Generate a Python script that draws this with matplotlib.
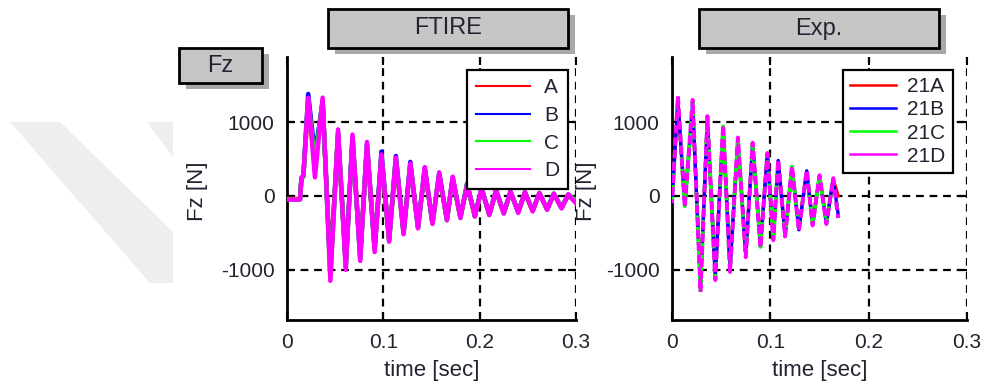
import matplotlib
matplotlib.use("Agg")
import matplotlib.pyplot as plt
from matplotlib.patches import Rectangle, Polygon
from matplotlib.lines import Line2D

plt.rcParams['font.family'] = ['Liberation Sans', 'DejaVu Sans']
plt.rcParams['axes.unicode_minus'] = False

# --- data (extrema of the oscillations) ---
ftire_t = [0.000, 0.0135, 0.015, 0.017, 0.022, 0.029, 0.037, 0.045, 0.053, 0.061,
           0.068, 0.076, 0.083, 0.091, 0.098, 0.106, 0.113, 0.121, 0.128, 0.136,
           0.143, 0.151, 0.158, 0.166, 0.172, 0.180, 0.187, 0.195, 0.202, 0.210,
           0.217, 0.225, 0.232, 0.240, 0.247, 0.255, 0.262, 0.270, 0.277, 0.285,
           0.292, 0.300]
ftire_A = [-40, -40, 230, 260, 1250, 500, 1250, -950, 820, -900, 760, -800, 660, -700,
           520, -580, 470, -480, 400, -420, 350, -360, 280, -320, 220, -290, 150, -270,
           90, -250, 60, -230, 50, -210, 40, -200, 30, -180, 20, -160, 10, -90]
ftire_B = [-45, -45, 240, 270, 1380, 550, 1280, -1050, 850, -950, 800, -850, 700, -720,
           600, -600, 540, -500, 460, -430, 380, -370, 300, -320, 250, -290, 170, -270,
           110, -250, 80, -230, 60, -220, 50, -200, 40, -180, 30, -160, 20, -80]
ftire_C = [-45, -45, 235, 265, 1300, 450, 1290, -1080, 860, -960, 780, -840, 690, -730,
           540, -610, 500, -510, 420, -430, 370, -370, 300, -330, 240, -300, 160, -280,
           100, -260, 70, -240, 55, -220, 45, -200, 35, -180, 25, -160, 15, -60]
ftire_D = [-50, -50, 250, 280, 1330, 250, 1330, -1150, 900, -1000, 830, -880, 730, -760,
           560, -620, 520, -520, 440, -440, 390, -380, 320, -330, 260, -300, 160, -280,
           100, -260, 70, -240, 60, -230, 50, -210, 40, -190, 30, -170, 20, -100]

exp_t = [0.000, 0.006, 0.013, 0.021, 0.029, 0.036, 0.044, 0.052, 0.059, 0.067, 0.075,
         0.082, 0.090, 0.097, 0.103, 0.108, 0.115, 0.122, 0.129, 0.137, 0.143, 0.150,
         0.157, 0.164, 0.169]
exp_A = [-50, 1250, -100, 1200, -1200, 1000, -1050, 900, -950, 740, -780, 680, -650,
         560, -580, 470, -520, 380, -450, 330, -380, 260, -360, 220, 0]
exp_B = [-80, 1300, -120, 1250, -1250, 1040, -1100, 930, -990, 760, -800, 700, -680,
         570, -590, 480, -540, 390, -460, 340, -390, 270, -370, 230, -250]
exp_C = [-90, 1320, -140, 1280, -1280, 1060, -1120, 940, -1010, 770, -810, 710, -690,
         575, -595, 485, -545, 395, -465, 345, -395, 275, -375, 235, -280]
exp_D = [-100, 1350, -150, 1300, -1300, 1080, -1140, 960, -1030, 790, -830, 720, -700,
         580, -600, 490, -550, 400, -470, 350, -400, 280, -380, 240, -300]

colors = ['#ff0000', '#0000ff', '#00ff00', '#ff00ff']
ftire_labels = ['A', 'B', 'C', 'D']
exp_labels = ['21A', '21B', '21C', '21D']
xticks = [0, 0.1, 0.2, 0.3]
yticks = [-1000, 0, 1000]

W, H = 984, 390
fig = plt.figure(figsize=(W / 100, H / 100), dpi=100)
txt = '#222230'


def px(x, y):
    return x / W, 1 - y / H


# faint watermark stripes on the left
for pts in [[(10, 122), (60, 122), (173, 232), (173, 283), (150, 283)],
            [(147, 122), (173, 122), (173, 157)]]:
    fig.patches.append(Polygon([px(*p) for p in pts], closed=True, transform=fig.transFigure,
                               facecolor='#eeeeee', edgecolor='none', zorder=0))


def label_box(x0, y0, x1, y1, text):
    fx0, fy1 = px(x0, y1)
    w, h = (x1 - x0) / W, (y1 - y0) / H
    fig.patches.append(Rectangle((fx0 + 7 / W, fy1 - 6 / H), w, h, transform=fig.transFigure,
                                 facecolor='#a8a8a8', edgecolor='none', zorder=1))
    fig.patches.append(Rectangle((fx0, fy1), w, h, transform=fig.transFigure,
                                 facecolor='#c6c6c6', edgecolor='black', lw=2, zorder=2))
    cx, cy = px((x0 + x1) / 2, (y0 + y1) / 2)
    fig.text(cx, cy, text, ha='center', va='center', fontsize=17, color=txt, zorder=3)


def setup(ax):
    ax.set_xlim(0, 0.3)
    ax.set_ylim(-1680, 1880)
    ax.set_xticks(xticks)
    ax.set_xticklabels(['0', '0.1', '0.2', '0.3'])
    ax.set_yticks(yticks)
    ax.spines['top'].set_visible(False)
    ax.spines['right'].set_visible(False)
    ax.spines['left'].set_linewidth(2)
    ax.spines['bottom'].set_linewidth(2)
    ax.tick_params(direction='in', top=True, right=True, length=6, width=1.5,
                   labelsize=15, labelcolor=txt, pad=9)
    ax.grid(True, color='black', linestyle=(0, (3.5, 2.6)), linewidth=1.6)
    ax.set_axisbelow(False)
    ax.set_xlabel('time [sec]', fontsize=16, color=txt, labelpad=6)
    ax.set_ylabel('Fz [N]', fontsize=16, color=txt)


def style_legend(leg):
    leg.get_frame().set_linewidth(1.6)
    for t in leg.get_texts():
        t.set_color(txt)


# left panel: FTIRE
ax1 = fig.add_axes([287 / W, 1 - 320 / H, 289 / W, 263 / H])
setup(ax1)
ax1.yaxis.set_label_coords(-0.273, 0.49)
for vals, c, lab in zip([ftire_A, ftire_B, ftire_C, ftire_D], colors, ftire_labels):
    ax1.plot(ftire_t, vals, color=c, lw=3.2, label=lab, zorder=3)
h1 = [Line2D([], [], color=c, lw=1.5) for c in colors]
leg1 = ax1.legend(h1, ftire_labels, loc='upper right', bbox_to_anchor=(0.972, 0.951),
                  borderaxespad=0, fontsize=15, handlelength=2.6, handletextpad=0.7,
                  labelspacing=0.42, fancybox=False, framealpha=1, edgecolor='black',
                  borderpad=0.4)
style_legend(leg1)

# right panel: measurement
ax2 = fig.add_axes([672 / W, 1 - 320 / H, 295 / W, 263 / H])
setup(ax2)
ax2.yaxis.set_label_coords(-0.254, 0.49)
ax2.plot(exp_t, exp_A, color=colors[0], lw=2.4, zorder=3)
ax2.plot(exp_t, exp_B, color=colors[1], lw=2.4, zorder=3)
ax2.plot(exp_t, exp_C, color=colors[2], lw=2.8, linestyle=(0, (1.5, 1.5)), zorder=3)
ax2.plot(exp_t, exp_D, color=colors[3], lw=2.8, linestyle=(1.2, (2.2, 1.0)), zorder=3)
h2 = [Line2D([], [], color=c, lw=1.8) for c in colors]
leg2 = ax2.legend(h2, exp_labels, loc='upper right', bbox_to_anchor=(0.9525, 0.951),
                  borderaxespad=0, fontsize=15, handlelength=2.2, handletextpad=0.55,
                  labelspacing=0.2, fancybox=False, framealpha=1, edgecolor='black',
                  borderpad=0.35)
style_legend(leg2)

label_box(328, 9, 568, 48, 'FTIRE')
label_box(699, 9, 939, 48, 'Exp.')
label_box(179, 48, 262, 83, 'Fz')

fig.savefig('out.png', dpi=100)
